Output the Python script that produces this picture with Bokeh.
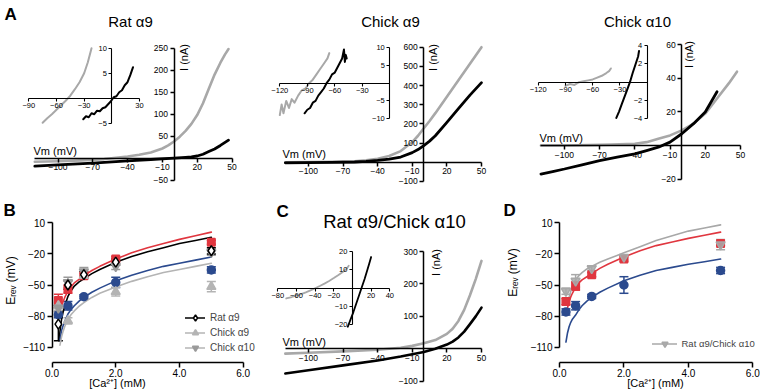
from bokeh.plotting import figure
from bokeh.models import (Range1d, LinearAxis, FixedTicker, Label, Legend, LegendItem,
                          Whisker, TeeHead, ColumnDataSource, NumeralTickFormatter)
from bokeh.embed import file_html
from bokeh.resources import INLINE

# ======================= DATA =======================
# --- Panel A, Rat a9 (main I-V: mV, nA) ---
RA9_V_GRAY = [-120, -100, -80, -60, -40, -30, -20, -10, -5, 0, 5, 10, 15, 20, 25, 30, 35, 40, 44, 47]
RA9_I_GRAY = [-8, -7, -5, -2, 4, 8, 13, 22, 29, 38, 49, 62, 78, 98, 125, 158, 190, 217, 236, 248]
RA9_V_BLACK = [-120, -100, -70, -40, -20, 0, 10, 15, 20, 25, 30, 35, 40, 47]
RA9_I_BLACK = [-18, -15, -11, -6, -3, 0, 2, 3, 5, 9, 15, 21, 29, 41]
# inset
RA9_IN_V_GRAY = [-75, -70, -65, -60, -55, -50, -45, -40, -35, -30, -26, -22]
RA9_IN_I_GRAY = [-4.9, -4.0, -3.2, -2.3, -1.4, -0.5, 0.5, 1.8, 3.2, 5.0, 7.2, 10.0]
RA9_IN_V_BLACK = [-31, -28, -25, -22, -19, -16, -13, -10, -7, -4, -1, 2, 5, 8, 11, 14, 17, 20, 23]
RA9_IN_I_BLACK = [-4.2, -3.6, -3.8, -3.0, -3.2, -2.5, -2.6, -2.0, -1.8, -1.2, -0.6, 0.2, 0.4,
                  1.2, 1.6, 2.6, 3.2, 4.6, 6.2]

# --- Panel A, Chick a9 ---
CA9_V_GRAY = [-120, -100, -80, -60, -50, -40, -30, -20, -10, -5, 0, 5, 10, 20, 30, 40, 50]
CA9_I_GRAY = [0, 1, 2, 5, 10, 18, 32, 58, 105, 138, 177, 215, 256, 342, 428, 514, 600]
CA9_V_BLACK = [-120, -100, -80, -60, -50, -40, -30, -20, -10, -5, 0, 5, 10, 20, 30, 40, 50]
CA9_I_BLACK = [-3, -2, -1, 1, 4, 9, 16, 27, 50, 66, 87, 110, 138, 208, 280, 350, 415]
CA9_IN_V_GRAY = [-120, -118, -116, -113, -110, -107, -104, -100, -96, -92, -88, -84, -80,
                 -76, -72, -68, -66]
CA9_IN_I_GRAY = [-9.0, -6.0, -8.5, -5.0, -7.0, -4.5, -5.5, -3.5, -2.0, -1.5, 0.0, 1.0, 2.5,
                 4.0, 5.5, 7.0, 8.5]
CA9_IN_V_BLACK = [-93, -90, -87, -84, -81, -78, -75, -72, -69, -66, -63, -60, -57, -54, -52,
                  -50, -49, -48, -47]
CA9_IN_I_BLACK = [-8.5, -7.5, -7.0, -5.5, -5.0, -3.5, -2.5, -1.5, 0.0, 1.0, 2.5, 3.0, 4.5,
                  6.0, 7.0, 9.5, 6.0, 8.0, 7.0]

# --- Panel A, Chick a10 ---
CA10_V_GRAY = [-120, -100, -80, -60, -40, -30, -20, -10, 0, 10, 20, 30, 40, 47]
CA10_I_GRAY = [0, 0, 0.2, 0.5, 1, 2, 4, 6, 9, 13, 19, 28, 37, 44]
CA10_V_BLACK = [-120, -110, -100, -85, -70, -55, -40, -30, -20, -10, 0, 10, 20, 30]
CA10_I_BLACK = [-17, -15.5, -14, -11.5, -9, -7, -5, -3, -1, 2, 7, 13, 20, 32]
CA10_IN_V_GRAY = [-90, -85, -80, -75, -70, -65, -60, -55, -50, -45, -42, -40]
CA10_IN_I_GRAY = [-0.4, -0.2, -0.3, 0.0, 0.1, 0.2, 0.3, 0.5, 0.7, 1.0, 1.2, 1.5]
CA10_IN_V_BLACK = [-34, -31, -28, -25, -22, -19, -16, -13, -10, -9]
CA10_IN_I_BLACK = [-3.9, -3.2, -2.4, -1.6, -0.8, 0.0, 1.0, 1.9, 2.8, 3.4]

# --- Panel C, Rat a9 / Chick a10 ---
RC_V_GRAY = [-120, -100, -70, -40, -20, -10, 0, 10, 20, 25, 30, 35, 40, 45, 50]
RC_I_GRAY = [-15, -12, -8, -3, 3, 9, 17, 27, 46, 62, 86, 120, 165, 215, 271]
RC_V_BLACK = [-120, -100, -70, -40, -20, -10, 0, 10, 20, 25, 30, 35, 40, 45, 50]
RC_I_BLACK = [-76, -66, -51, -36, -24, -17, -10, 0, 13, 22, 35, 53, 76, 100, 127]
RC_IN_V_GRAY = [-71, -65, -60, -55, -50, -45, -40, -35, -30, -25, -20, -15, -10, -6, -4]
RC_IN_I_GRAY = [-5.6, -4.8, -4.0, -3.2, -2.3, -1.2, 0.0, 1.2, 2.5, 3.9, 5.5, 7.2, 9.0, 10.8, 12.2]
RC_IN_V_BLACK = [-5, -2, 1, 4, 7, 10, 13, 16, 18, 20]
RC_IN_I_BLACK = [-21, -17, -13, -8.5, -4, 0.5, 5, 10, 13.5, 17]

# --- Panel B: Erev (mV) vs [Ca2+] (mM) ---
CA = [0.2, 0.5, 1.0, 2.0, 5.0]
B_RAT = [-87.7, -50, -40, -28, -17]
B_RAT_ERR = [16, 4, 3, 3, 3]
B_CA9 = [-70, -84.5, -41, -56.5, -51.6]
B_CA9_ERR = [3, 3, 3, 4, 5]
B_CA10 = [-72, -47.5, -37, -32, -18.4]
B_CA10_ERR = [3, 5, 4, 3, 3]
B_RED = [-65, -54, -41, -24.8, -8.8]
B_RED_ERR = [6, 4, 2, 2, 2]
B_BLUE = [-78.7, -70, -61.3, -47.5, -35.5]
B_BLUE_ERR = [3, 4, 2, 5, 3]
# fitted curves
B_RED_FIT_X = [0.3, 0.35, 0.4, 0.5, 0.6, 0.7, 0.85, 1.0, 1.25, 1.5, 2.0, 2.5, 3.0, 3.5, 4.0, 4.5, 5.0]
B_RED_FIT_Y = [-70, -66, -62, -56, -51.5, -48, -44.5, -41, -36, -32, -25, -19, -14, -10, -6, -2.5, 1]
B_BLACK_FIT_X = [0.22, 0.25, 0.3, 0.35, 0.4, 0.5, 0.6, 0.7, 0.85, 1.0, 1.25, 1.5, 2.0, 2.5, 3.0,
                 3.5, 4.0, 4.5, 5.0]
B_BLACK_FIT_Y = [-104, -95, -83, -76, -70, -61, -55.5, -51, -47, -44, -39, -35, -28, -22.5, -18,
                 -14, -10, -7, -4]
B_BLUE_FIT_X = [0.25, 0.3, 0.35, 0.4, 0.5, 0.6, 0.7, 0.85, 1.0, 1.25, 1.5, 2.0, 2.5, 3.0, 3.5,
                4.0, 4.5, 5.0]
B_BLUE_FIT_Y = [-103, -94, -89, -85, -78, -73.5, -70, -65.5, -62, -57, -53, -46, -40.5, -36, -32,
                -29, -26, -23]
B_GRAY_FIT_X = [0.25, 0.3, 0.35, 0.4, 0.5, 0.6, 0.7, 0.85, 1.0, 1.25, 1.5, 2.0, 2.5, 3.0, 3.5,
                4.0, 4.5, 5.0]
B_GRAY_FIT_Y = [-108, -100, -94.5, -90, -83, -78.5, -75, -70.5, -67, -62, -58, -52, -46.5, -42,
                -38, -35, -32, -29]

# --- Panel D ---
D_HYB = [-56, -46, -34, -23, -11]
D_HYB_ERR = [3, 6, 2, 2, 5]
D_RED = [-66, -51, -40, -25, -10]
D_RED_ERR = [3, 4, 2, 2, 2]
D_BLUE = [-76, -70, -61, -50, -36]
D_BLUE_ERR = [3, 4, 2, 8, 3]
D_GRAY_FIT_X = [0.28, 0.35, 0.4, 0.5, 0.6, 0.7, 0.85, 1.0, 1.25, 1.5, 2.0, 2.5, 3.0, 3.5, 4.0,
                4.5, 5.0]
D_GRAY_FIT_Y = [-64, -56, -51, -45, -41, -38, -34.5, -32, -28, -25, -19, -13, -7, -2.5, 2, 5,
                8]
D_RED_FIT_X = [0.25, 0.3, 0.35, 0.4, 0.5, 0.6, 0.7, 0.85, 1.0, 1.25, 1.5, 2.0, 2.5, 3.0, 3.5,
               4.0, 4.5, 5.0]
D_RED_FIT_Y = [-72, -66, -61.5, -58, -52, -48, -45, -42, -39, -34, -30, -23, -17, -12, -8.5,
               -5, -2, 1]
D_BLUE_FIT_X = [0.2, 0.25, 0.3, 0.35, 0.4, 0.5, 0.6, 0.7, 0.85, 1.0, 1.25, 1.5, 2.0, 2.5, 3.0,
                3.5, 4.0, 4.5, 5.0]
D_BLUE_FIT_Y = [-105, -96, -90, -86, -83, -79, -74, -70, -65.5, -62, -57, -53, -46, -40.5, -36,
                -33, -30, -27.5, -25]

# tick values
A_VM_TICKS = [-100, -70, -40, -10, 20, 50]
RA9_I_TICKS = [-50, 50, 100, 150, 200, 250]
CA9_I_TICKS = [-100, 100, 200, 300, 400, 500, 600]
CA10_I_TICKS = [-20, 20, 40, 60]
RC_I_TICKS = [-100, 100, 200, 300]
RA9_IN_V_TICKS = [-90, -60, -30, 30]
RA9_IN_I_TICKS = [-5, 5, 10]
CA9_IN_V_TICKS = [-120, -90, -60, -30]
CA9_IN_I_TICKS = [-10, -5, 5, 10]
CA10_IN_V_TICKS = [-120, -90, -60, -30]
CA10_IN_I_TICKS = [-4, -2, 2, 4]
RC_IN_V_TICKS = [-80, -60, -40, -20, 20, 40]
RC_IN_I_TICKS = [-20, -10, 10, 20]
CA_TICKS = [0, 2, 4, 6]
EREV_TICKS = [-110, -80, -50, -20, 10]

# ======================= STYLE / LAYOUT =======================
FONT = "Liberation Sans"
RED = "#e0363f"
BLUE = "#2b4a8e"
LGRAY = "#b4b4b4"
MGRAY = "#9a9a9a"
TGRAY = "#a8a8a8"

W, H = 760, 391

XR, YR = {}, {}


def add_x(name, d0, r0, d1, r1):
    m = (r1 - r0) / (d1 - d0)
    XR[name] = Range1d(start=d0 - r0 / m, end=d0 + (W - r0) / m)


def add_y(name, d0, r0, d1, r1):
    m = (r1 - r0) / (d1 - d0)
    YR[name] = Range1d(start=d0 + (H - r0) / m, end=d0 - r0 / m)


def inv(d0, r0, d1, r1, r):
    return d0 + (r - r0) * (d1 - d0) / (r1 - r0)


# main + inset mappings (data value <-> picture pixel)
add_x("a1x", 0, 173.5, 50, 231.5);   add_y("a1y", 0, 157.7, 250, 47.7)
add_x("a1ix", -90, 28.3, 30, 139.0); add_y("a1iy", 0, 97.7, 10, 47.7)
add_x("a2x", 0, 423.3, 50, 481.0);   add_y("a2y", 0, 161.7, 600, 46.7)
add_x("a2ix", -120, 279.3, 0, 389.3); add_y("a2iy", 0, 82.7, 10, 47.3)
add_x("a3x", 0, 681.3, 50, 740.0);   add_y("a3y", 0, 145.0, 60, 44.3)
add_x("a3ix", -120, 537.7, 0, 646.7); add_y("a3iy", 0, 81.7, 4, 45.0)
add_x("cx", 0, 423.3, 50, 481.0);    add_y("cy", 0, 348.3, 300, 251.0)
add_x("cix", -80, 277.3, 40, 389.3); add_y("ciy", 0, 287.7, 20, 251.0)
add_x("bx", 0, 51.5, 6, 242.7);      add_y("by", 10, 222.3, -110, 346.7)
add_x("dx", 0, 559.0, 6, 752.3);     add_y("dy", 10, 222.3, -110, 346.7)
B_XAXIS_LOC = inv(10, 222.3, -110, 346.7, 361.7)

p = figure(width=W, height=H, output_backend="svg", toolbar_location=None,
           x_range=Range1d(0, W), y_range=Range1d(H, 0), min_border=0,
           x_axis_type=None, y_axis_type=None, outline_line_color=None,
           background_fill_color="white", border_fill_color="white")
p.extra_x_ranges = XR
p.extra_y_ranges = YR
p.grid.visible = False


def add_axes(xn, yn, xb, yb, xt, yt, fs, xloc=0.0, yloc=0.0, xfmt=None, lw=1.5, tick=4):
    common = dict(x_range_name=xn, y_range_name=yn, axis_line_width=lw, axis_line_color="black",
                  major_tick_line_width=lw, major_tick_line_color="black",
                  major_tick_in=0, major_tick_out=tick, minor_tick_line_color=None,
                  major_label_text_font=FONT, major_label_text_font_size=fs,
                  major_label_standoff=2, major_label_text_color="black")
    ax = LinearAxis(fixed_location=yloc, bounds=xb, ticker=FixedTicker(ticks=xt), **common)
    if xfmt is not None:
        ax.formatter = xfmt
    p.add_layout(ax, "below")
    ay = LinearAxis(fixed_location=xloc, bounds=yb, ticker=FixedTicker(ticks=yt), **common)
    p.add_layout(ay, "left")


def trace(xs, ys, xn, yn, color, w):
    return p.line(xs, ys, x_range_name=xn, y_range_name=yn, line_color=color,
                  line_width=w, line_join="round", line_cap="round")


def label(text, rx, ry, size, align="center", baseline="middle", angle=0.0, bold=False):
    p.add_layout(Label(x=rx, y=ry, text=text, text_font=FONT, text_font_size=size,
                       text_align=align, text_baseline=baseline, angle=angle,
                       text_font_style="bold" if bold else "normal", text_color="black"))


# ---------------- Panel A ----------------
add_axes("a1x", "a1y", (-120, 50), (-50, 250), A_VM_TICKS, RA9_I_TICKS, "8.5px")
trace(RA9_V_GRAY, RA9_I_GRAY, "a1x", "a1y", TGRAY, 2.6)
trace(RA9_V_BLACK, RA9_I_BLACK, "a1x", "a1y", "black", 2.8)
add_axes("a1ix", "a1iy", (-90, 30), (-5, 10), RA9_IN_V_TICKS, RA9_IN_I_TICKS, "7.5px", lw=1.1, tick=3)
trace(RA9_IN_V_GRAY, RA9_IN_I_GRAY, "a1ix", "a1iy", TGRAY, 2.0)
trace(RA9_IN_V_BLACK, RA9_IN_I_BLACK, "a1ix", "a1iy", "black", 2.0)

add_axes("a2x", "a2y", (-120, 50), (-100, 600), A_VM_TICKS, CA9_I_TICKS, "8.5px")
trace(CA9_V_GRAY, CA9_I_GRAY, "a2x", "a2y", TGRAY, 2.6)
trace(CA9_V_BLACK, CA9_I_BLACK, "a2x", "a2y", "black", 2.8)
add_axes("a2ix", "a2iy", (-120, 0), (-10, 10), CA9_IN_V_TICKS, CA9_IN_I_TICKS, "7.5px", lw=1.1, tick=3)
trace(CA9_IN_V_GRAY, CA9_IN_I_GRAY, "a2ix", "a2iy", TGRAY, 2.0)
trace(CA9_IN_V_BLACK, CA9_IN_I_BLACK, "a2ix", "a2iy", "black", 2.0)

add_axes("a3x", "a3y", (-120, 50), (-20, 60), A_VM_TICKS, CA10_I_TICKS, "8.5px")
trace(CA10_V_GRAY, CA10_I_GRAY, "a3x", "a3y", TGRAY, 2.6)
trace(CA10_V_BLACK, CA10_I_BLACK, "a3x", "a3y", "black", 2.8)
add_axes("a3ix", "a3iy", (-120, 0), (-4, 4), CA10_IN_V_TICKS, CA10_IN_I_TICKS, "7.5px", lw=1.1, tick=3)
trace(CA10_IN_V_GRAY, CA10_IN_I_GRAY, "a3ix", "a3iy", TGRAY, 2.0)
trace(CA10_IN_V_BLACK, CA10_IN_I_BLACK, "a3ix", "a3iy", "black", 2.0)

# ---------------- Panel C ----------------
add_axes("cx", "cy", (-120, 50), (-100, 300), A_VM_TICKS, RC_I_TICKS, "8.5px")
trace(RC_V_GRAY, RC_I_GRAY, "cx", "cy", TGRAY, 2.6)
trace(RC_V_BLACK, RC_I_BLACK, "cx", "cy", "black", 2.6)
add_axes("cix", "ciy", (-80, 40), (-20, 20), RC_IN_V_TICKS, RC_IN_I_TICKS, "7.5px", lw=1.1, tick=3)
trace(RC_IN_V_GRAY, RC_IN_I_GRAY, "cix", "ciy", TGRAY, 1.8)
trace(RC_IN_V_BLACK, RC_IN_I_BLACK, "cix", "ciy", "black", 1.8)


# ---------------- Panels B and D ----------------
def errbars(xs, ys, errs, xn, yn, color):
    src = ColumnDataSource(dict(x=xs, lo=[y - e for y, e in zip(ys, errs)],
                                hi=[y + e for y, e in zip(ys, errs)]))
    w = Whisker(base="x", lower="lo", upper="hi", source=src, dimension="height",
                x_range_name=xn, y_range_name=yn, line_color=color, line_width=1.5,
                upper_head=TeeHead(size=9, line_color=color, line_width=1.5),
                lower_head=TeeHead(size=9, line_color=color, line_width=1.5),
                level="underlay")
    p.add_layout(w)


def pts(xs, ys, xn, yn, marker, color, fill=None, size=8):
    return p.scatter(xs, ys, x_range_name=xn, y_range_name=yn, marker=marker, size=size,
                     fill_color=fill if fill else color, line_color=color, line_width=1.5)


add_axes("bx", "by", (0, 6), (-110, 10), CA_TICKS, EREV_TICKS, "10px",
         xloc=0.0, yloc=B_XAXIS_LOC, xfmt=NumeralTickFormatter(format="0.0"), lw=1.5, tick=5)
add_axes("dx", "dy", (0, 6), (-110, 10), CA_TICKS, EREV_TICKS, "10px",
         xloc=0.0, yloc=B_XAXIS_LOC, xfmt=NumeralTickFormatter(format="0.0"), lw=1.5, tick=5)

# B curves
b_red_fit = trace(B_RED_FIT_X, B_RED_FIT_Y, "bx", "by", RED, 1.6)
b_black_fit = trace(B_BLACK_FIT_X, B_BLACK_FIT_Y, "bx", "by", "black", 1.6)
b_blue_fit = trace(B_BLUE_FIT_X, B_BLUE_FIT_Y, "bx", "by", BLUE, 1.6)
b_gray_fit = trace(B_GRAY_FIT_X, B_GRAY_FIT_Y, "bx", "by", LGRAY, 1.6)
# B error bars + markers
errbars(CA, B_BLUE, B_BLUE_ERR, "bx", "by", BLUE)
errbars(CA, B_RED, B_RED_ERR, "bx", "by", RED)
errbars(CA, B_CA9, B_CA9_ERR, "bx", "by", LGRAY)
errbars(CA, B_CA10, B_CA10_ERR, "bx", "by", MGRAY)
errbars(CA, B_RAT, B_RAT_ERR, "bx", "by", "black")
pts(CA, B_BLUE, "bx", "by", "circle", BLUE)
pts(CA, B_RED, "bx", "by", "square", RED, size=7.5)
b_ca9 = pts(CA, B_CA9, "bx", "by", "triangle", LGRAY, size=9)
b_ca10 = pts(CA, B_CA10, "bx", "by", "inverted_triangle", MGRAY, size=9)
b_rat = pts(CA, B_RAT, "bx", "by", "diamond", "black", fill="white", size=10)

# D curves
d_gray_fit = trace(D_GRAY_FIT_X, D_GRAY_FIT_Y, "dx", "dy", TGRAY, 1.6)
d_red_fit = trace(D_RED_FIT_X, D_RED_FIT_Y, "dx", "dy", RED, 1.6)
d_blue_fit = trace(D_BLUE_FIT_X, D_BLUE_FIT_Y, "dx", "dy", BLUE, 1.6)
errbars(CA, D_BLUE, D_BLUE_ERR, "dx", "dy", BLUE)
errbars(CA, D_RED, D_RED_ERR, "dx", "dy", RED)
errbars(CA, D_HYB, D_HYB_ERR, "dx", "dy", TGRAY)
pts(CA, D_BLUE, "dx", "dy", "circle", BLUE)
pts(CA, D_RED, "dx", "dy", "square", RED, size=7.5)
d_hyb = pts(CA, D_HYB, "dx", "dy", "inverted_triangle", TGRAY, size=9)
d_hyb.glyph.fill_alpha = 0.85


def make_legend(items, left_r, bottom_r, gw, fs):
    leg = Legend(items=items, location=(left_r, H - bottom_r),
                 background_fill_alpha=0, border_line_alpha=0, padding=0, margin=0,
                 glyph_width=gw, glyph_height=15, label_height=14, label_standoff=5,
                 spacing=0, label_text_font=FONT, label_text_font_size=fs)
    p.add_layout(leg)


make_legend([LegendItem(label="Rat α9", renderers=[b_black_fit, b_rat]),
             LegendItem(label="Chick α9", renderers=[b_gray_fit, b_ca9]),
             LegendItem(label="Chick α10", renderers=[b_gray_fit, b_ca10])],
            185, 355.0, 20, "10px")
make_legend([LegendItem(label="Rat α9/Chick α10", renderers=[d_gray_fit, d_hyb])],
            651.5, 350.5, 25, "9.5px")

# ---------------- Texts ----------------
label("A", 4, 4, "17px", align="left", baseline="top", bold=True)
label("B", 3, 200, "17px", align="left", baseline="top", bold=True)
label("C", 276, 201, "17px", align="left", baseline="top", bold=True)
label("D", 503, 200, "17px", align="left", baseline="top", bold=True)

label("Rat α9", 130, 21, "15px")
label("Chick α9", 390, 21, "15px")
label("Chick α10", 637, 21, "15px")
label("Rat α9/Chick α10", 394, 221, "18.5px")

label("Vm (mV)", 33, 150, "11px", align="left")
label("Vm (mV)", 282, 153, "11px", align="left")
label("Vm (mV)", 539, 137, "11px", align="left")
label("Vm (mV)", 282, 341, "11px", align="left")

ROT = 1.5707963267948966
label("I (nA)", 183, 57, "11px", angle=ROT)
label("I (nA)", 432, 57, "11px", angle=ROT)
label("I (nA)", 688, 54, "11px", angle=ROT)
label("I (nA)", 435, 262, "11px", angle=ROT)

label("Eᵣₑᵥ (mV)", 10, 280, "12px", angle=ROT)
label("Eᵣₑᵥ (mV)", 512, 272, "12px", angle=ROT)
label("[Ca²⁺] (mM)", 117, 382, "11px")
label("[Ca²⁺] (mM)", 655, 382, "11px")

with open("out.html", "w") as f:
    f.write(file_html(p, INLINE))
